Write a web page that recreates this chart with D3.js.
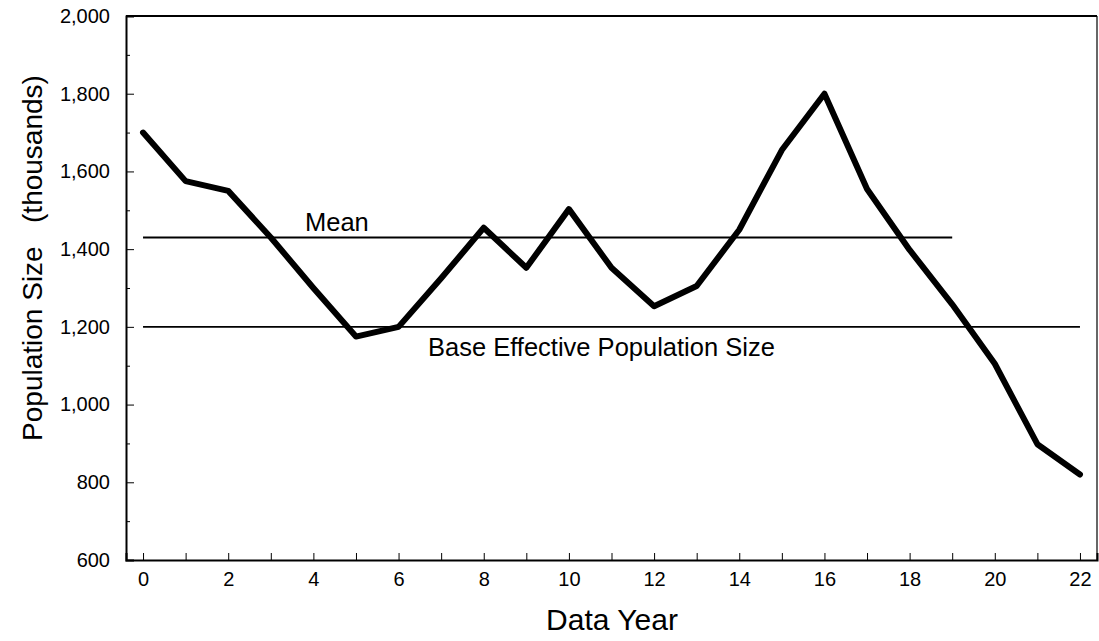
<!DOCTYPE html>
<html><head><meta charset="utf-8">
<script src="https://cdn.jsdelivr.net/npm/d3@7"></script>
<style>body{margin:0;background:#fff;} text{font-family:"Liberation Sans",Arial,sans-serif;fill:#000;}</style>
</head><body>
<svg id="c" width="1099" height="641"></svg>
<script>
const years = [0,1,2,3,4,5,6,7,8,9,10,11,12,13,14,15,16,17,18,19,20,21,22];
const population = [1700,1575,1550,1430,1300,1175,1200,1325,1455,1352,1503,1352,1253,1305,1450,1655,1800,1555,1398,1258,1105,898,820];
const meanValue = 1430, meanFrom = 0, meanTo = 19;
const baseValue = 1200, baseFrom = 0, baseTo = 22;
const yTicks = [600,800,1000,1200,1400,1600,1800,2000];
const xTicks = [0,2,4,6,8,10,12,14,16,18,20,22];

const svg = d3.select("#c");
const L=126, R=1097, T=16, B=560;
const x = d3.scaleLinear().domain([-0.4,22.4]).range([L,R]);
const y = d3.scaleLinear().domain([600,2000]).range([B,T]);

// frame
svg.append("line").attr("x1",L).attr("x2",R).attr("y1",T).attr("y2",T).attr("stroke","#000").attr("stroke-width",2);
svg.append("line").attr("x1",R).attr("x2",R).attr("y1",T).attr("y2",B).attr("stroke","#000").attr("stroke-width",1.2);

// y axis
const ya = svg.append("g").attr("transform",`translate(${L},0)`)
  .call(d3.axisLeft(y).tickValues(yTicks).tickSize(-8).tickPadding(16).tickFormat(d3.format(",")));
ya.select(".domain").attr("stroke-width",2);
ya.selectAll("text").attr("font-size",20).attr("font-family","Liberation Sans, Arial");
svg.append("g").attr("transform",`translate(${L},0)`)
  .call(d3.axisLeft(y).tickValues(d3.range(700,2000,200)).tickSize(-4).tickFormat(""))
  .select(".domain").remove();

// x axis
const xa = svg.append("g").attr("transform",`translate(0,${B})`)
  .call(d3.axisBottom(x).tickValues(years).tickSize(-7).tickPadding(12).tickFormat(d=> xTicks.includes(d)? d : ""));
xa.select(".domain").attr("stroke-width",2);
xa.selectAll("text").attr("font-size",20).attr("font-family","Liberation Sans, Arial");

// reference lines
svg.append("line").attr("x1",x(meanFrom)).attr("x2",x(meanTo)).attr("y1",y(meanValue)).attr("y2",y(meanValue)).attr("stroke","#000").attr("stroke-width",1.8);
svg.append("line").attr("x1",x(baseFrom)).attr("x2",x(baseTo)).attr("y1",y(baseValue)).attr("y2",y(baseValue)).attr("stroke","#000").attr("stroke-width",1.8);
svg.append("text").attr("x",305).attr("y",y(meanValue)-6).attr("font-size",25.5).text("Mean");
svg.append("text").attr("x",428).attr("y",y(baseValue)+29).attr("font-size",25.5).text("Base Effective Population Size");

// data line
svg.append("path").datum(years.map((d,i)=>[d,population[i]]))
  .attr("d", d3.line().x(d=>x(d[0])).y(d=>y(d[1])))
  .attr("fill","none").attr("stroke","#000").attr("stroke-width",6).attr("stroke-linejoin","round").attr("stroke-linecap","round");

// titles
svg.append("text").attr("x",612).attr("y",630).attr("text-anchor","middle").attr("font-size",30).text("Data Year");
svg.append("text").attr("transform","translate(42,258) rotate(-90)").attr("text-anchor","middle").attr("font-size",28)
  .attr("xml:space","preserve").style("white-space","pre").text("Population Size   (thousands)");
</script>
</body></html>
